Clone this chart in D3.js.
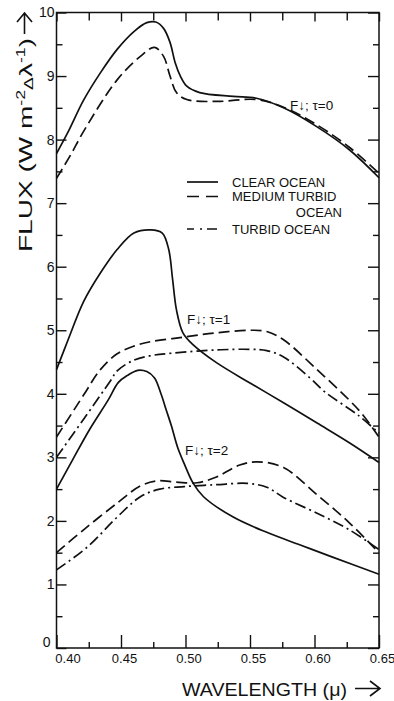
<!DOCTYPE html>
<html><head><meta charset="utf-8">
<script src="https://cdn.jsdelivr.net/npm/d3@7"></script>
<style>html,body{margin:0;padding:0;background:#fff}svg{display:block}</style>
</head><body>
<svg id="c" width="394" height="701"></svg>
<script>
// ---- data (wavelength in µ, flux in W m-2 Δλ-1) ----
const xTicks = [0.40, 0.45, 0.50, 0.55, 0.60, 0.65];
const xTickLabels = ["0.40", "0.45", "0.50", "0.55", "0.60", "0.65"];
const xMinorTicks = [0.425, 0.475, 0.525, 0.575, 0.625];
const yTicks = [0, 1, 2, 3, 4, 5, 6, 7, 8, 9, 10];
const yTickLabels = ["0", "1", "2", "3", "4", "5", "6", "7", "8", "9", "10"];
const yMinorTicks = [0.5, 1.5, 2.5, 3.5, 4.5, 5.5, 6.5, 7.5, 8.5, 9.5];
const legendLabels = ["CLEAR OCEAN", "MEDIUM TURBID", "OCEAN", "TURBID OCEAN"];
const annotations = ["F↓; τ=0", "F↓; τ=1", "F↓; τ=2"];

const clearTau0 = [[0.400,7.78],[0.409,8.12],[0.421,8.62],[0.434,9.05],[0.447,9.42],[0.460,9.70],[0.470,9.84],[0.477,9.85],[0.483,9.75],[0.488,9.53],[0.492,9.21],[0.496,9.00],[0.501,8.84],[0.511,8.74],[0.537,8.68],[0.555,8.65],[0.576,8.50],[0.602,8.20],[0.627,7.84],[0.650,7.40]];
const mediumTau0 = [[0.400,7.39],[0.411,7.76],[0.421,8.13],[0.447,8.94],[0.465,9.31],[0.476,9.45],[0.483,9.31],[0.488,9.00],[0.493,8.74],[0.501,8.63],[0.524,8.60],[0.555,8.63],[0.576,8.51],[0.602,8.23],[0.627,7.88],[0.650,7.47]];

const clearTau1 = [[0.400,4.38],[0.409,4.85],[0.421,5.45],[0.434,5.90],[0.447,6.27],[0.460,6.53],[0.473,6.58],[0.482,6.53],[0.487,6.27],[0.490,5.80],[0.493,5.32],[0.498,4.96],[0.506,4.77],[0.524,4.49],[0.550,4.17],[0.576,3.86],[0.602,3.54],[0.627,3.23],[0.650,2.92]];
const mediumTau1 = [[0.400,3.32],[0.421,3.98],[0.434,4.38],[0.447,4.63],[0.460,4.75],[0.473,4.82],[0.498,4.89],[0.524,4.96],[0.550,5.00],[0.563,4.98],[0.576,4.85],[0.602,4.38],[0.627,3.90],[0.637,3.68],[0.650,3.32]];
const turbidTau1 = [[0.400,3.00],[0.421,3.60],[0.442,4.21],[0.447,4.36],[0.460,4.53],[0.473,4.60],[0.490,4.64],[0.524,4.69],[0.550,4.70],[0.563,4.68],[0.576,4.58],[0.597,4.24],[0.608,4.03],[0.634,3.66],[0.650,3.38]];

const clearTau2 = [[0.400,2.50],[0.413,2.98],[0.426,3.45],[0.440,3.90],[0.448,4.18],[0.455,4.29],[0.463,4.37],[0.470,4.35],[0.476,4.25],[0.481,4.00],[0.485,3.75],[0.489,3.50],[0.494,3.15],[0.499,2.90],[0.506,2.59],[0.514,2.38],[0.537,2.06],[0.563,1.82],[0.589,1.62],[0.614,1.43],[0.650,1.16]];
const mediumTau2 = [[0.400,1.50],[0.421,1.86],[0.447,2.28],[0.465,2.55],[0.478,2.63],[0.493,2.61],[0.509,2.60],[0.524,2.69],[0.542,2.88],[0.556,2.93],[0.576,2.84],[0.602,2.41],[0.627,1.97],[0.650,1.50]];
const turbidTau2 = [[0.400,1.23],[0.424,1.59],[0.447,2.06],[0.465,2.38],[0.480,2.50],[0.499,2.54],[0.524,2.57],[0.548,2.59],[0.563,2.53],[0.576,2.37],[0.602,2.12],[0.627,1.86],[0.650,1.55]];

// ---- chart ----
const svg = d3.select("#c");
const FONT = "'Liberation Sans', Arial, sans-serif";
const INK = "#111";
const x = d3.scaleLinear().domain([0.40, 0.65]).range([56.5, 379]);
const y = d3.scaleLinear().domain([0, 10]).range([648, 12.5]);

const styles = {
  solid: null,
  dashed: "11,5",
  dashdot: "11,4,2,4"
};

const line = d3.line().x(d => x(d[0])).y(d => y(d[1])).curve(d3.curveCatmullRom.alpha(0.5));

const series = [
  [clearTau0, "solid"], [mediumTau0, "dashed"],
  [clearTau1, "solid"], [mediumTau1, "dashed"], [turbidTau1, "dashdot"],
  [clearTau2, "solid"], [mediumTau2, "dashed"], [turbidTau2, "dashdot"]
];

const gLines = svg.append("g");
series.forEach(([data, st]) => {
  gLines.append("path").datum(data).attr("d", line)
    .attr("fill", "none").attr("stroke", INK).attr("stroke-width", 1.7)
    .attr("stroke-dasharray", styles[st]);
});

// axes (ticks point inward)
function styleAxis(g) {
  g.select(".domain").remove();
  g.selectAll("line").attr("stroke", INK).attr("stroke-width", 1.4);
  g.selectAll("text").attr("font-family", FONT).attr("fill", INK);
}
// left
svg.append("g").attr("transform", `translate(${x(0.40)},0)`)
  .call(d3.axisLeft(y).tickValues(yTicks).tickSize(-10).tickPadding(2)
    .tickFormat((d, i) => yTickLabels[i]))
  .call(styleAxis)
  .call(g => g.selectAll("text").attr("font-size", 14)
    .filter(d => d === 0).attr("dy", "-0.1em").attr("dx", -4));
svg.append("g").attr("transform", `translate(${x(0.40)},0)`)
  .call(d3.axisLeft(y).tickValues(yMinorTicks).tickSize(-6).tickFormat(""))
  .call(styleAxis);
// right
svg.append("g").attr("transform", `translate(${x(0.65)},0)`)
  .call(d3.axisRight(y).tickValues(yTicks).tickSize(-11).tickFormat(""))
  .call(styleAxis);
svg.append("g").attr("transform", `translate(${x(0.65)},0)`)
  .call(d3.axisRight(y).tickValues(yMinorTicks).tickSize(-6).tickFormat(""))
  .call(styleAxis);
// bottom
svg.append("g").attr("transform", `translate(0,${y(0)})`)
  .call(d3.axisBottom(x).tickValues(xTicks).tickSize(-13).tickPadding(6)
    .tickFormat((d, i) => xTickLabels[i]))
  .call(styleAxis)
  .call(g => g.selectAll("text").attr("font-size", 13)
    .attr("dx", (d, i) => i === 0 ? 11 : 3));
svg.append("g").attr("transform", `translate(0,${y(0)})`)
  .call(d3.axisBottom(x).tickValues(xMinorTicks).tickSize(-6).tickFormat(""))
  .call(styleAxis);
// top
svg.append("g").attr("transform", `translate(0,${y(10)})`)
  .call(d3.axisTop(x).tickValues(xTicks).tickSize(-9).tickFormat(""))
  .call(styleAxis);
svg.append("g").attr("transform", `translate(0,${y(10)})`)
  .call(d3.axisTop(x).tickValues(xMinorTicks).tickSize(-8).tickFormat(""))
  .call(styleAxis);

// frame
svg.append("rect")
  .attr("x", x(0.40)).attr("y", y(10))
  .attr("width", x(0.65) - x(0.40)).attr("height", y(0) - y(10))
  .attr("fill", "none").attr("stroke", INK).attr("stroke-width", 1.5);

// axis titles
svg.append("text").attr("x", 182).attr("y", 696)
  .attr("font-family", FONT).attr("font-size", 19).attr("fill", INK)
  .attr("textLength", 165).attr("lengthAdjust", "spacingAndGlyphs")
  .text("WAVELENGTH (μ)");
svg.append("path")
  .attr("d", "M355,688.5 L380,688.5 M370,681 L380,688.5 L370,696")
  .attr("fill", "none").attr("stroke", INK).attr("stroke-width", 1.6);

const yt = svg.append("text")
  .attr("transform", "translate(32,252) rotate(-90)")
  .attr("font-family", FONT).attr("font-size", 19).attr("fill", INK)
  .attr("textLength", 214).attr("lengthAdjust", "spacingAndGlyphs");
yt.append("tspan").text("FLUX (W m");
yt.append("tspan").attr("font-size", 12).attr("dy", -7).text("-2");
yt.append("tspan").attr("font-size", 13).attr("dy", 8).text("Δ");
yt.append("tspan").attr("dy", -1).text("λ");
yt.append("tspan").attr("font-size", 12).attr("dy", -7).text("-1");
yt.append("tspan").attr("dy", 7).text(")");
svg.append("path")
  .attr("d", "M24.5,34 L24.5,13 M17,22 L24.5,13 L32,22")
  .attr("fill", "none").attr("stroke", INK).attr("stroke-width", 1.6);

// legend
const lg = svg.append("g").attr("font-family", FONT).attr("font-size", 13).attr("fill", INK);
const legendRows = [
  {t: legendLabels[0], y: 182, dash: null},
  {t: legendLabels[1], y: 196.5, dash: "12,7"},
  {t: legendLabels[3], y: 229, dash: "7,6,2,5,10"}
];
legendRows.forEach(r => {
  lg.append("line").attr("x1", 187).attr("x2", 218).attr("y1", r.y).attr("y2", r.y)
    .attr("stroke", INK).attr("stroke-width", 1.7).attr("stroke-dasharray", r.dash);
  lg.append("text").attr("x", 232).attr("y", r.y + 4.7).text(r.t);
});
lg.append("text").attr("x", 342).attr("y", 216.8).attr("text-anchor", "end").text(legendLabels[2]);

// curve annotations
const ann = svg.append("g").attr("font-family", FONT).attr("font-size", 13.5).attr("fill", INK);
ann.append("text").attr("x", 290).attr("y", 110).text(annotations[0]);
ann.append("text").attr("x", 187).attr("y", 324).text(annotations[1]);
ann.append("text").attr("x", 185).attr("y", 455).text(annotations[2]);
</script>
</body></html>
